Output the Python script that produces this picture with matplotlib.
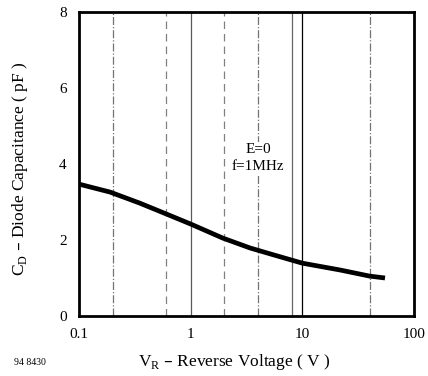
import numpy as np
import matplotlib
matplotlib.use("Agg")
import matplotlib.pyplot as plt

# curve
v_r = [0.1, 0.19, 0.35, 0.61, 1.0, 1.94, 3.4, 5.5, 10.0, 21.8, 40.0, 55.0]
c_d = [3.47, 3.26, 2.97, 2.68, 2.42, 2.05, 1.79, 1.61, 1.39, 1.21, 1.05, 1.0]

x_ticks = [0.1, 1, 10, 100]
x_tick_labels = ["0.1", "1", "10", "100"]
y_ticks = [0, 2, 4, 6, 8]

# grid lines as they show on the scan
grid_x = [0.2, 0.6, 1, 2, 4, 8, 10, 40]
grid_style = ["-.", (0, (6, 4)), "-", (0, (6, 4)), "-.", "-", "-", "-."]
grid_color = ["0.45", "0.5", "0.35", "0.5", "0.45", "0.4", "0.0", "0.45"]

plt.rcParams["font.family"] = ["Liberation Serif", "DejaVu Serif"]

fig = plt.figure(figsize=(4.28, 3.76), dpi=100)
ax = fig.add_axes([0.1846, 0.1596, 0.7827, 0.8085])

for gx, ls, col in zip(grid_x, grid_style, grid_color):
    ax.axvline(gx, color=col, lw=0.9, ls=ls, zorder=1)

ax.plot(v_r, c_d, color="black", lw=3.4, solid_capstyle="butt", zorder=3)

ax.set_xscale("log")
ax.set_xlim(0.1, 100)
ax.set_ylim(0, 8)
ax.set_xticks(x_ticks)
ax.set_xticklabels(x_tick_labels)
ax.minorticks_off()
ax.set_yticks(y_ticks)
ax.tick_params(length=0, labelsize=11, pad=9)
for s in ax.spines.values():
    s.set_linewidth(2)

ax.text(0.535, 0.52, "E=0\nf=1MHz", transform=ax.transAxes, ha="center",
        va="center", fontsize=11, linespacing=1.35, zorder=4,
        bbox=dict(facecolor="white", edgecolor="none", pad=1))

fig.text(0.5467, 0.037, "V$_\\mathregular{R}$ – Reverse Voltage ( V )",
         ha="center", va="center", fontsize=12.5)
fig.text(0.047, 0.55, "C$_\\mathregular{D}$ – Diode Capacitance ( pF )",
         ha="center", va="center", rotation=90, fontsize=12.5)
fig.text(0.033, 0.037, "94 8430", ha="left", va="center", fontsize=7)

fig.savefig("out.png", dpi=100)
